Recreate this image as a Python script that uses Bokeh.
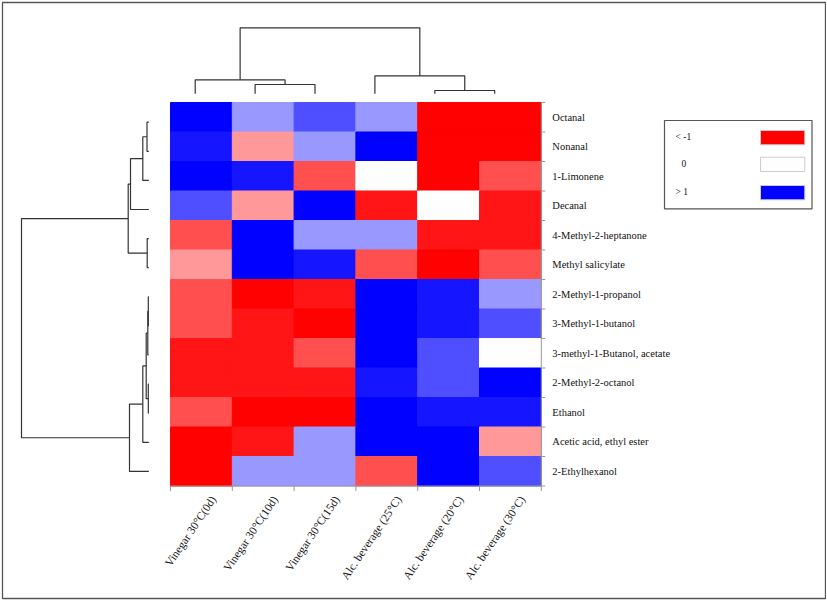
import numpy as np
from bokeh.plotting import figure
from bokeh.models import Range1d, LinearColorMapper, ColumnDataSource
from bokeh.core.properties import value
from bokeh.embed import file_html
from bokeh.resources import INLINE

# ---------------- data ----------------
samples = ["Vinegar 30°C(0d)", "Vinegar 30°C(10d)", "Vinegar 30°C(15d)",
           "Alc. beverage (25°C)", "Alc. beverage (20°C)", "Alc. beverage (30°C)"]
compounds = ["Octanal", "Nonanal", "1-Limonene", "Decanal", "4-Methyl-2-heptanone",
             "Methyl salicylate", "2-Methyl-1-propanol", "3-Methyl-1-butanol",
             "3-methyl-1-Butanol, acetate", "2-Methyl-2-octanol", "Ethanol",
             "Acetic acid, ethyl ester", "2-Ethylhexanol"]

# standardized values (rows = compounds, in column order of `samples`)
octanal        = [1.2, 0.4, 0.69, 0.4, -1.2, -1.2]
nonanal        = [0.92, -0.4, 0.4, 1.2, -1.2, -1.2]
limonene       = [1.2, 0.92, -0.69, 0.0, -1.2, -0.69]
decanal        = [0.69, -0.4, 1.2, -0.92, 0.0, -0.92]
heptanone      = [-0.69, 1.2, 0.4, 0.4, -0.92, -0.92]
salicylate     = [-0.4, 1.2, 0.92, -0.69, -1.2, -0.69]
propanol       = [-0.69, -1.2, -0.92, 1.2, 0.92, 0.4]
butanol        = [-0.69, -0.92, -1.2, 1.2, 0.92, 0.69]
butyl_acetate  = [-0.92, -0.92, -0.69, 1.2, 0.69, 0.0]
octanol        = [-0.92, -0.92, -0.92, 0.92, 0.69, 1.2]
ethanol        = [-0.69, -1.2, -1.2, 1.2, 0.92, 0.92]
ethyl_acetate  = [-1.2, -0.92, 0.4, 1.2, 1.2, -0.4]
ethylhexanol   = [-1.2, 0.4, 0.4, -0.69, 1.2, 0.69]
values = [octanal, nonanal, limonene, decanal, heptanone, salicylate, propanol,
          butanol, butyl_acetate, octanol, ethanol, ethyl_acetate, ethylhexanol]

# hierarchical clustering links (a, b, distance); new clusters numbered from n
row_links = [(0, 1, 1.8), (13, 2, 6.0), (14, 3, 18.3), (4, 5, 1.6), (15, 16, 20.6),
             (6, 7, 0.5), (18, 8, 1.0), (9, 10, 0.5), (19, 20, 2.6), (21, 11, 6.0),
             (22, 12, 19.3), (17, 23, 127.3)]
col_links = [(1, 2, 9.3), (0, 6, 14.0), (4, 5, 3.3), (3, 8, 18.0), (7, 9, 66.0)]

legend_labels = ["< -1", "0", "> 1"]
legend_values = [-1.0, 0.0, 1.0]

# ---------------- layout (page pixels) ----------------
W, H = 826, 601
OFF = 0
HM_L, HM_T, CW, RH = 170.0, 102.0, 61.8, 29.5


def X(px):
    return (px - HM_L) / CW


def Y(py):
    return (py - HM_T) / RH


nR, nC = len(compounds), len(samples)

p = figure(width=W, height=H, output_backend="svg", toolbar_location=None,
           x_range=Range1d(X(OFF), X(OFF + W)),
           y_range=Range1d(Y(OFF + H), Y(OFF)),
           x_axis_type=None, y_axis_type=None,
           min_border=0, min_border_left=0, min_border_right=0,
           min_border_top=0, min_border_bottom=0)
p.grid.visible = False
p.outline_line_color = None
p.background_fill_color = "white"
p.border_fill_color = "white"

# chart frame
p.quad(left=[X(2)], right=[X(825)], top=[Y(2)], bottom=[Y(598)],
       fill_color=None, line_color="#555555", line_width=1.3)

# palette red -> white -> blue
pal = []
for k in range(256):
    v = -1 + (k + 0.5) / 128.0
    t = min(1.0, abs(v))
    c = int(round(255 * (1 - t)))
    pal.append("#%02x%02x%02x" % ((255, c, c) if v < 0 else (c, c, 255)))
mapper = LinearColorMapper(palette=pal, low=-1, high=1)

xs, ys, zs = [], [], []
for r in range(nR):
    for c in range(nC):
        xs.append(c + 0.5)
        ys.append(r + 0.5)
        zs.append(values[r][c])
src = ColumnDataSource(dict(x=xs, y=ys, z=zs))
p.rect(x="x", y="y", width=1, height=1, source=src,
       fill_color={"field": "z", "transform": mapper},
       line_color={"field": "z", "transform": mapper})

# axis lines and ticks around heatmap
axc = "#999999"
p.segment(x0=[0], y0=[nR], x1=[nC], y1=[nR], line_color=axc, line_width=1)
p.segment(x0=list(range(nC + 1)), y0=[nR] * (nC + 1),
          x1=list(range(nC + 1)), y1=[nR + Y(HM_T + 5)] * (nC + 1),
          line_color=axc, line_width=1)
p.segment(x0=[nC], y0=[0], x1=[nC], y1=[nR], line_color=axc, line_width=1)
p.segment(x0=[nC] * (nR + 1), y0=list(range(nR + 1)),
          x1=[nC + X(HM_L + 4)] * (nR + 1), y1=list(range(nR + 1)),
          line_color=axc, line_width=1)

FONT = value("Liberation Serif")

# row labels
p.text(x=[X(HM_L + nC * CW + 11)] * nR, y=[r + 0.5 for r in range(nR)], text=compounds,
       text_font=FONT, text_font_size="10.5px",
       text_align="left", text_baseline="middle", text_color="#111111")

# column labels (rotated)
ang = np.deg2rad(56)
p.text(x=[c + 0.5 + 12 / CW for c in range(nC)], y=[Y(HM_T + nR * RH + 11)] * nC,
       text=samples, angle=ang, text_font=FONT, text_font_size="11.5px",
       text_align="right", text_baseline="middle", text_color="#111111")


def dendro(links, n, leaf_pos):
    pos = list(leaf_pos)
    hgt = [0.0] * n
    P, D = [], []
    for a, b, h in links:
        P.append([pos[a], pos[a], pos[b], pos[b]])
        D.append([hgt[a], h, h, hgt[b]])
        pos.append((pos[a] + pos[b]) / 2)
        hgt.append(h)
    return P, D


# left (row) dendrogram
row_leaf = [Y(121.7) + i * 29.1 / RH for i in range(nR)]
P, D = dendro(row_links, nR, row_leaf)
leaf_x = X(148.3)
p.multi_line(xs=[[leaf_x - d / CW for d in dd] for dd in D], ys=P,
             line_color="#333333", line_width=1.2)

# top (column) dendrogram
col_leaf = [X(194.7) + j * 59.9 / CW for j in range(nC)]
P, D = dendro(col_links, nC, col_leaf)
leaf_y = Y(93.3)
p.multi_line(xs=P, ys=[[leaf_y - d / RH for d in dd] for dd in D],
             line_color="#333333", line_width=1.2)

# legend box
p.quad(left=[X(664)], right=[X(811.5)], top=[Y(120)], bottom=[Y(208.3)],
       fill_color="white", line_color="#555555", line_width=1.2)
sw_top = [130, 156.7, 185]
lsrc = ColumnDataSource(dict(left=[X(760)] * 3, right=[X(804.3)] * 3,
                             top=[Y(t) for t in sw_top],
                             bottom=[Y(t + 14.3) for t in sw_top],
                             v=legend_values,
                             tx=[X(675), X(681), X(675)],
                             ty=[Y(t + 6) for t in sw_top],
                             label=legend_labels))
p.quad(left="left", right="right", top="top", bottom="bottom", source=lsrc,
       fill_color={"field": "v", "transform": mapper}, line_color="#cccccc")
p.text(x="tx", y="ty", text="label", source=lsrc, text_font=FONT,
       text_font_size="9.5px", text_align="left", text_baseline="middle",
       text_color="#111111")

open("out.html", "w").write(file_html(p, INLINE))
